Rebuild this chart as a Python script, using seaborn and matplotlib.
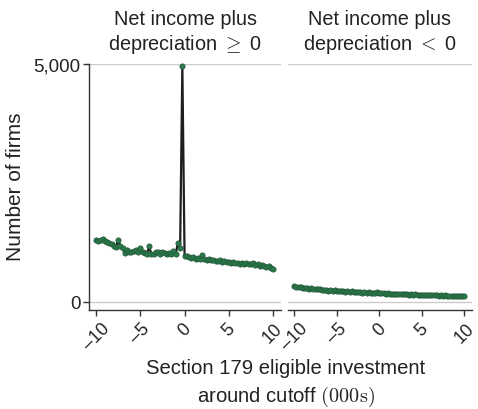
import numpy as np
import pandas as pd
import matplotlib
matplotlib.use("Agg")
import matplotlib.pyplot as plt
import seaborn as sns

# Bin centres (thousands of dollars around the Section 179 cutoff)
bins = np.round(np.arange(-10, 10.001, 0.25), 2)

# Firm counts per bin, firms with non-negative net income plus depreciation
counts_pos = [
    1305, 1290, 1310, 1330, 1280, 1260, 1240, 1210, 1180, 1160,
    1300, 1180, 1130, 1020, 1100, 1050, 1060, 1070, 1090, 1060,
    1140, 1050, 1040, 1010, 1170, 1000, 1010, 1050, 1060, 1000,
    1050, 1040, 1010, 1030, 1000, 1070, 1010, 1250, 1140, 4970,
    960, 960, 940, 920, 950, 910, 930, 900, 985, 910,
    890, 900, 880, 885, 870, 860, 880, 850, 860, 840,
    850, 830, 840, 820, 830, 800, 830, 790, 810, 800,
    790, 820, 780, 790, 760, 770, 750, 740, 760, 720,
    700,
]

# Firm counts per bin, firms with negative net income plus depreciation
counts_neg = [
    330, 320, 315, 305, 300, 290, 295, 280, 285, 270,
    275, 265, 270, 255, 260, 250, 240, 255, 235, 245,
    230, 235, 225, 240, 215, 225, 210, 220, 205, 210,
    200, 215, 195, 205, 190, 200, 195, 185, 190, 210,
    185, 180, 190, 175, 180, 170, 175, 168, 172, 160,
    165, 170, 158, 162, 155, 165, 150, 160, 148, 155,
    150, 145, 152, 140, 148, 145, 138, 142, 135, 140,
    132, 138, 130, 135, 128, 130, 125, 128, 122, 125,
    120,
]

panel_titles = [
    "Net income plus\ndepreciation $\\geq$ 0",
    "Net income plus\ndepreciation $<$ 0",
]
xticks = [-10, -5, 0, 5, 10]
yticks = [0, 5000]
ytick_labels = ["0", "5,000"]
xlabel = "Section 179 eligible investment\naround cutoff $(000\\mathrm{s})$"
ylabel = "Number of firms"

sns.set_theme(style="white")
plt.rcParams["font.family"] = ["Liberation Sans", "DejaVu Sans"]
plt.rcParams["mathtext.fontset"] = "cm"

line_color = "#1e1e1e"
dot_color = "#2a7a4b"
grid_color = "#cccccc"

fig = plt.figure(figsize=(4.78, 4.10), dpi=100)
W, H = 478, 410
ax_l = fig.add_axes([89 / W, 1 - 311 / H, (281 - 89) / W, (311 - 65) / H])
ax_r = fig.add_axes([288 / W, 1 - 311 / H, (472 - 288) / W, (311 - 65) / H])

for ax, counts, title in [(ax_l, counts_pos, panel_titles[0]),
                          (ax_r, counts_neg, panel_titles[1])]:
    df = pd.DataFrame({"bin": bins, "firms": counts})
    for y in yticks:
        ax.axhline(y, color=grid_color, lw=1.0, zorder=0)
    sns.lineplot(data=df, x="bin", y="firms", ax=ax, color=line_color,
                 lw=1.6, zorder=2)
    sns.scatterplot(data=df, x="bin", y="firms", ax=ax, color=dot_color,
                    s=15, edgecolor="#1f4f33", linewidth=0.4, zorder=3,
                    clip_on=False)
    ax.set_ylim(-170, 5010)
    ax.set_xticks(xticks)
    ax.set_xticklabels([f"{t}".replace("-", "\u2013") for t in xticks],
                       rotation=45, ha="center", va="top", fontsize=13)
    ax.set_xlabel("")
    ax.set_ylabel("")
    ax.set_title(title, fontsize=14.3, pad=11, color="#222222")
    for s in ["top", "right"]:
        ax.spines[s].set_visible(False)
    ax.spines["bottom"].set_color("#333333")
    ax.spines["bottom"].set_linewidth(1.0)
    ax.tick_params(axis="x", bottom=True, length=4, width=1.0,
                   color="#333333", pad=3, labelcolor="#222222")

ax_l.set_xlim(-10.8, 10.9)
ax_r.set_xlim(-10.75, 10.9)

ax_l.set_yticks(yticks)
ax_l.set_yticklabels(ytick_labels, fontsize=13.5, color="#222222")
ax_l.tick_params(axis="y", left=True, length=4, width=1.0, color="#333333", pad=2)
ax_l.spines["left"].set_color("#333333")
ax_l.spines["left"].set_linewidth(1.0)

ax_r.spines["left"].set_visible(False)
ax_r.set_yticks(yticks)
ax_r.set_yticklabels([])
ax_r.tick_params(axis="y", left=False)

fig.text(16 / W, 1 - 187 / H, ylabel, rotation=90, ha="center", va="center",
         fontsize=15, color="#222222")
fig.text(286 / W, 1 - 384 / H, xlabel, ha="center", va="center",
         fontsize=14.6, color="#222222", linespacing=1.35)

fig.savefig("out.png", dpi=100)
